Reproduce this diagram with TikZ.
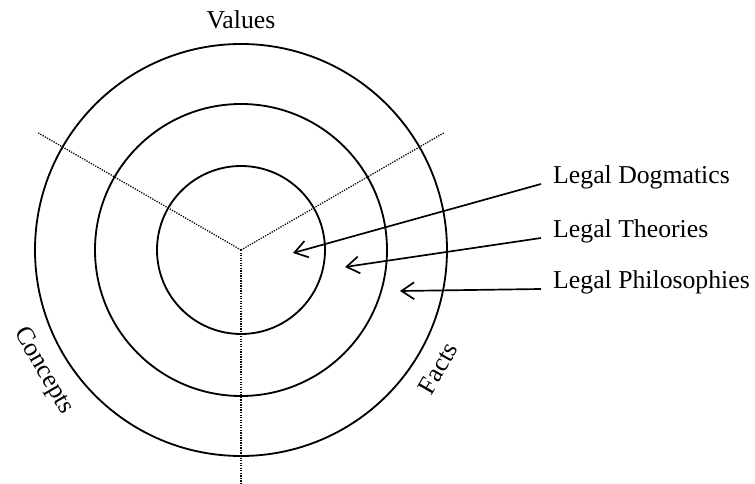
\documentclass[tikz,border=0pt]{standalone}
\usepackage{fontspec}
\setmainfont{Liberation Serif}
\usetikzlibrary{arrows.meta}
\tikzset{
    ring/.style={draw, line width=1.3pt},
    sector/.style={draw, line width=0.9pt, dash pattern=on 0.9pt off 0.9pt},
    pointer/.style={draw, line width=1.2pt, -{Straight Barb[length=9pt, width=12pt]}},
    level/.style={anchor=base west, inner xsep=8.5pt, inner ysep=0pt, font=\fontsize{18.3}{20}\selectfont},
    side/.style={font=\fontsize{18.3}{20}\selectfont},
}
\begin{document}
\begin{tikzpicture}[x=0.025cm, y=0.025cm]
        \useasboundingbox (-241,-234) rectangle (514,250);
        \coordinate (c) at (0,0);
        % rings
        \foreach \r in {84, 146, 206} {
            \draw[ring] (c) circle[radius=\r];
        }
        % dotted borders between the three fields
        \foreach \a in {30, 150, 270} {
            \coordinate (ray\a) at (\a:234);
            \draw[sector] (c) -- (ray\a);
        }
        \node[side] (values) at (90:230) {Values};
        \node[side, rotate=-60] (concepts) at (211.5:232) {Concepts};
        \node[side, rotate=60] (facts) at (-31:230) {Facts};
        % levels
        \node[level] (dogm) at (300,66) {Legal Dogmatics};
        \node[level] (theo) at (300,12) {Legal Theories};
        \node[level] (phil) at (300,-39) {Legal Philosophies};
        \coordinate (tipD) at (52,-3);
        \coordinate (tipT) at (104,-17);
        \coordinate (tipP) at (159,-41);
        \draw[pointer] (dogm.base west) -- (tipD);
        \draw[pointer] (theo.base west) -- (tipT);
        \draw[pointer] (phil.base west) -- (tipP);
    \end{tikzpicture}
\end{document}
